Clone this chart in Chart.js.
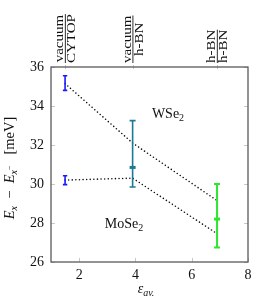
<!DOCTYPE html>
<html>
<head>
<meta charset="utf-8">
<script src="https://cdn.jsdelivr.net/npm/chart.js@4"></script>
<style>
  html, body { margin: 0; padding: 0; background: #fff; }
  #wrap { width: 259px; height: 303px; }
</style>
</head>
<body>
<div id="wrap"><canvas id="chart"></canvas></div>
<script>
// substrate positions (average dielectric constant)
const epsAv = [1.5, 3.9, 6.9];
const envTop = ['vacuum', 'vacuum', 'h-BN'];
const envBottom = ['CYTOP', 'h-BN', 'h-BN'];

// dotted model lines
const wse2Line = [35.15, 32.1, 29.15];
const mose2Line = [30.2, 30.3, 27.45];

// measured points with error bars
const errX = [1.5, 1.5, 3.9, 6.9];
const errMid = [35.15, 30.2, 30.85, 28.2];
const errLow = [34.8, 29.97, 29.85, 26.75];
const errHigh = [35.55, 30.42, 33.25, 30.0];
const errColor = ['#1a1aff', '#1a1aff', '#1b7a96', '#2ee62e'];

const xTicks = [2, 4, 6, 8];
const yTicks = [26, 28, 30, 32, 34, 36];

const SERIF = '"Liberation Serif", serif';

// draws a sequence of text pieces [text, size, italic, dy] starting at x
function drawPieces(ctx, pieces, x, y) {
    pieces.forEach(p => {
        ctx.font = (p[2] ? 'italic ' : '') + p[1] + 'px ' + SERIF;
        ctx.fillText(p[0], x, y + (p[3] || 0));
        x += ctx.measureText(p[0]).width;
    });
}
function piecesWidth(ctx, pieces) {
    let w = 0;
    pieces.forEach(p => {
        ctx.font = (p[2] ? 'italic ' : '') + p[1] + 'px ' + SERIF;
        w += ctx.measureText(p[0]).width;
    });
    return w;
}

const decorPlugin = {
    id: 'decor',
    afterDatasetsDraw(chart) {
        const ctx = chart.ctx;
        const xs = chart.scales.x, ys = chart.scales.y;
        const a = chart.chartArea;
        ctx.save();

        // error bars
        errX.forEach((xv, i) => {
            const px = xs.getPixelForValue(xv);
            const pLo = ys.getPixelForValue(errLow[i]);
            const pHi = ys.getPixelForValue(errHigh[i]);
            const pMid = ys.getPixelForValue(errMid[i]);
            const cap = i < 2 ? 2.2 : 3;
            ctx.strokeStyle = errColor[i];
            ctx.fillStyle = errColor[i];
            ctx.lineWidth = i === 3 ? 2 : 1.6;
            ctx.beginPath();
            ctx.moveTo(px, pLo); ctx.lineTo(px, pHi);
            ctx.moveTo(px - cap, pLo); ctx.lineTo(px + cap, pLo);
            ctx.moveTo(px - cap, pHi); ctx.lineTo(px + cap, pHi);
            ctx.stroke();
            if (i >= 2) ctx.fillRect(px - 3, pMid - 1.5, 6, 3);
        });

        // inner ticks
        ctx.strokeStyle = '#c8c8c8';
        ctx.lineWidth = 1;
        ctx.beginPath();
        xTicks.forEach(v => {
            const px = Math.round(xs.getPixelForValue(v)) + 0.5;
            ctx.moveTo(px, a.bottom); ctx.lineTo(px, a.bottom - 4);
        });
        yTicks.forEach(v => {
            const py = Math.round(ys.getPixelForValue(v)) + 0.5;
            ctx.moveTo(a.left, py); ctx.lineTo(a.left + 4, py);
            ctx.moveTo(a.right, py); ctx.lineTo(a.right - 4, py);
        });
        epsAv.forEach(v => {
            const px = Math.round(xs.getPixelForValue(v)) + 0.5;
            ctx.moveTo(px, a.top - 2); ctx.lineTo(px, a.top + 2);
        });
        ctx.stroke();

        // axis box
        ctx.strokeStyle = '#5a5a5a';
        ctx.lineWidth = 1.3;
        ctx.strokeRect(a.left, a.top, a.right - a.left, a.bottom - a.top);

        ctx.fillStyle = '#111';
        ctx.textBaseline = 'alphabetic';

        // top axis: rotated fractions
        epsAv.forEach((v, i) => {
            const px = xs.getPixelForValue(v);
            ctx.save();
            ctx.translate(px, a.top - 4);
            ctx.rotate(-Math.PI / 2);
            ctx.scale(1.2, 1);
            ctx.font = '12.5px ' + SERIF;
            const w1 = ctx.measureText(envTop[i]).width;
            const w2 = ctx.measureText(envBottom[i]).width;
            const w = Math.max(w1, w2);
            ctx.textAlign = 'center';
            ctx.fillText(envTop[i], w / 2, -1.8);
            ctx.fillText(envBottom[i], w / 2, 10);
            ctx.strokeStyle = '#111';
            ctx.lineWidth = 0.8;
            ctx.beginPath();
            ctx.moveTo(0, 0.3); ctx.lineTo(w, 0.3);
            ctx.stroke();
            ctx.restore();
        });

        // annotations
        ctx.textAlign = 'left';
        const wLab = [['WSe', 14, false], ['2', 10, false, 3]];
        drawPieces(ctx, wLab, 168 - piecesWidth(ctx, wLab) / 2, 118);
        const mLab = [['MoSe', 14, false], ['2', 10, false, 3]];
        drawPieces(ctx, mLab, 124 - piecesWidth(ctx, mLab) / 2, 228);

        // x title
        const xLab = [['\u03b5', 14, true], ['av.', 10, true, 3]];
        drawPieces(ctx, xLab, 146 - piecesWidth(ctx, xLab) / 2, 293);

        // y title
        const yLab = [['E', 14.5, true], ['x', 10, true, 3], ['  \u2212  ', 14.5, false],
                      ['E', 14.5, true], ['x', 10, true, 3], ['\u2212', 8, false, -2],
                      ['   [meV]', 14.5, false]];
        ctx.save();
        ctx.translate(14, 168);
        ctx.rotate(-Math.PI / 2);
        drawPieces(ctx, yLab, -piecesWidth(ctx, yLab) / 2, 0);
        ctx.restore();

        ctx.restore();
    }
};

const dotted = {
    showLine: true,
    pointRadius: 0,
    borderColor: '#111',
    borderWidth: 1.6,
    borderDash: [0, 3.6],
    borderCapStyle: 'round',
    fill: false
};

new Chart(document.getElementById('chart'), {
    type: 'scatter',
    data: {
        datasets: [
            { ...dotted, label: 'WSe2', data: epsAv.map((x, i) => ({ x, y: wse2Line[i] })) },
            { ...dotted, label: 'MoSe2', data: epsAv.map((x, i) => ({ x, y: mose2Line[i] })) }
        ]
    },
    options: {
        responsive: true,
        maintainAspectRatio: false,
        animation: false,
        devicePixelRatio: 1,
        layout: { padding: { top: 67, right: 11, left: 0, bottom: 0 } },
        plugins: { legend: { display: false }, tooltip: { enabled: false } },
        scales: {
            x: {
                type: 'linear', min: 1, max: 8,
                afterBuildTicks: s => { s.ticks = xTicks.map(v => ({ value: v })); },
                afterFit: s => { s.height = 41; },
                grid: { display: false, drawTicks: false },
                border: { display: false },
                ticks: { padding: 5, color: '#111', font: { family: SERIF, size: 14 } }
            },
            y: {
                type: 'linear', min: 26, max: 36,
                afterBuildTicks: s => { s.ticks = yTicks.map(v => ({ value: v })); },
                afterFit: s => { s.width = 51; },
                grid: { display: false, drawTicks: false },
                border: { display: false },
                ticks: { padding: 7, color: '#111', font: { family: SERIF, size: 14 } }
            }
        }
    },
    plugins: [decorPlugin]
});
</script>
</body>
</html>
